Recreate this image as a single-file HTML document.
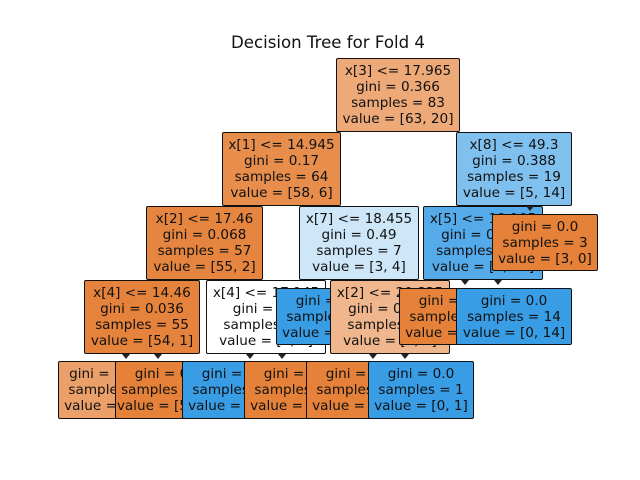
<!DOCTYPE html>
<html><head><meta charset="utf-8"><style>
html,body{margin:0;padding:0;background:#fff;}
#c{position:relative;width:640px;height:480px;overflow:hidden;font-family:"DejaVu Sans","Liberation Sans",sans-serif;}
.n{position:absolute;box-sizing:border-box;border:1.3px solid #111;border-radius:2px;text-align:center;font-size:13.6px;line-height:16px;color:#111;padding-top:3.5px;white-space:nowrap;overflow:hidden;}
.t{position:absolute;width:0;height:0;border-left:4px solid transparent;border-right:4px solid transparent;border-top:5px solid #222;}
#title{position:absolute;left:0;width:656px;top:33px;text-align:center;font-size:16.6px;color:#111;}
</style></head><body><div id="c">
<div id="title">Decision Tree for Fold 4</div>

<div class="n" style="left:336px;top:58px;width:124px;height:74px;background:#eda978">x[3] &lt;= 17.965<br>gini = 0.366<br>samples = 83<br>value = [63, 20]</div>

<div class="n" style="left:222px;top:132px;width:119px;height:74px;background:#e88e4d">x[1] &lt;= 14.945<br>gini = 0.17<br>samples = 64<br>value = [58, 6]</div>
<div class="n" style="left:456px;top:132px;width:116px;height:74px;background:#80c0ee">x[8] &lt;= 49.3<br>gini = 0.388<br>samples = 19<br>value = [5, 14]</div>

<div class="n" style="left:146px;top:206px;width:117px;height:74px;background:#e6853f">x[2] &lt;= 17.46<br>gini = 0.068<br>samples = 57<br>value = [55, 2]</div>
<div class="n" style="left:299px;top:206px;width:120px;height:74px;background:#cde6f8">x[7] &lt;= 18.455<br>gini = 0.49<br>samples = 7<br>value = [3, 4]</div>
<div class="n" style="left:423px;top:206px;width:120px;height:74px;background:#55abe9">x[5] &lt;= 19.105<br>gini = 0.124<br>samples = 15<br>value = [1, 14]</div>
<div class="n" style="left:492px;top:214px;width:106px;height:57px;background:#e58139">gini = 0.0<br>samples = 3<br>value = [3, 0]</div>

<div class="n" style="left:84px;top:280px;width:116px;height:74px;background:#e5823b">x[4] &lt;= 14.46<br>gini = 0.036<br>samples = 55<br>value = [54, 1]</div>
<div class="n" style="left:206px;top:280px;width:120px;height:74px;background:#ffffff">x[4] &lt;= 17.145<br>gini = 0.5<br>samples = 2<br>value = [1, 1]</div>
<div class="n" style="left:276px;top:288px;width:106px;height:57px;background:#399de5">gini = 0.0<br>samples = 3<br>value = [0, 3]</div>
<div class="n" style="left:330px;top:280px;width:120px;height:74px;background:#f0b78e">x[2] &lt;= 20.825<br>gini = 0.444<br>samples = 3<br>value = [2, 1]</div>
<div class="n" style="left:399px;top:288px;width:106px;height:57px;background:#e58139">gini = 0.0<br>samples = 1<br>value = [1, 0]</div>
<div class="n" style="left:456px;top:288px;width:116px;height:57px;background:#399de5">gini = 0.0<br>samples = 14<br>value = [0, 14]</div>

<div class="n" style="left:58px;top:361px;width:106px;height:58px;background:#eba06a">gini = 0.375<br>samples = 4<br>value = [3, 1]</div>
<div class="n" style="left:115px;top:361px;width:106px;height:58px;background:#e58139">gini = 0.0<br>samples = 51<br>value = [51, 0]</div>
<div class="n" style="left:182px;top:361px;width:106px;height:58px;background:#399de5">gini = 0.0<br>samples = 1<br>value = [0, 1]</div>
<div class="n" style="left:244px;top:361px;width:106px;height:58px;background:#e58139">gini = 0.0<br>samples = 1<br>value = [1, 0]</div>
<div class="n" style="left:306px;top:361px;width:106px;height:58px;background:#e58139">gini = 0.0<br>samples = 2<br>value = [2, 0]</div>
<div class="n" style="left:368px;top:361px;width:106px;height:58px;background:#399de5">gini = 0.0<br>samples = 1<br>value = [0, 1]</div>

<div class="t" style="left:122px;top:354px"></div>
<div class="t" style="left:154px;top:354px"></div>
<div class="t" style="left:246px;top:354px"></div>
<div class="t" style="left:278px;top:354px"></div>
<div class="t" style="left:369px;top:354px"></div>
<div class="t" style="left:401px;top:354px"></div>
<div class="t" style="left:461px;top:280px"></div>
<div class="t" style="left:494px;top:280px"></div>
<div class="t" style="left:526px;top:206px"></div>
</div></body></html>
